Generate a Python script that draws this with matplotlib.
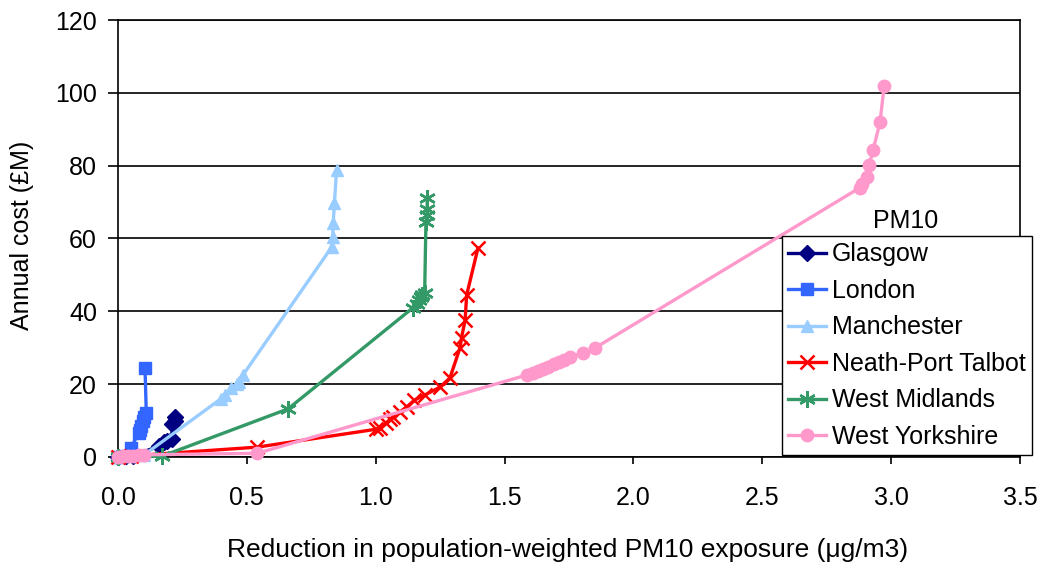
import matplotlib
matplotlib.use("Agg")
import matplotlib.pyplot as plt

plt.rcParams['font.family'] = ['Liberation Sans', 'DejaVu Sans']

glasgow_x = [0.0, 0.03, 0.06, 0.16, 0.18, 0.19, 0.21, 0.21, 0.22, 0.22]
glasgow_y = [0.0, 0.2, 0.4, 3.0, 4.0, 4.5, 5.0, 9.0, 10.0, 11.0]

london_x = [0.0, 0.02, 0.05, 0.08, 0.085, 0.09, 0.097, 0.1, 0.11, 0.105]
london_y = [0.0, 0.3, 2.5, 6.5, 7.4, 8.5, 10.0, 11.0, 12.0, 24.4]

manchester_x = [0.0, 0.1, 0.4, 0.415, 0.44, 0.46, 0.47, 0.485, 0.83, 0.833, 0.835, 0.84, 0.848]
manchester_y = [0.0, 0.5, 16.0, 17.0, 19.0, 20.0, 20.6, 22.5, 57.7, 60.4, 64.2, 69.7, 78.8]

neath_x = [0.0, 0.05, 0.54, 1.0, 1.017, 1.04, 1.055, 1.068, 1.094, 1.12, 1.15, 1.19,
           1.25, 1.288, 1.327, 1.333, 1.347, 1.353, 1.397]
neath_y = [0.0, 0.3, 2.7, 7.6, 8.0, 9.3, 10.3, 11.0, 12.4, 13.7, 15.6, 17.0,
           19.2, 21.7, 29.9, 32.7, 37.6, 44.5, 57.4]

midlands_x = [0.0, 0.17, 0.66, 1.145, 1.16, 1.17, 1.175, 1.18, 1.19, 1.195, 1.2, 1.2, 1.2]
midlands_y = [0.0, 0.2, 13.2, 41.0, 42.0, 43.0, 44.0, 44.5, 45.0, 64.5, 66.4, 68.0, 71.0]

yorkshire_x = [0.0, 0.02, 0.04, 0.06, 0.08, 0.1, 0.54, 1.586, 1.61, 1.63, 1.65, 1.67,
               1.69, 1.71, 1.73, 1.754, 1.805, 1.85, 2.88, 2.886, 2.905, 2.915, 2.93, 2.957, 2.973]
yorkshire_y = [0.0, 0.2, 0.3, 0.4, 0.5, 0.6, 1.0, 22.5, 23.0, 23.6, 24.2, 24.8,
               25.4, 26.0, 26.6, 27.5, 28.5, 29.9, 74.0, 75.0, 76.9, 80.2, 84.3, 92.0, 102.0]

fig = plt.figure(figsize=(10.42, 5.65), dpi=100)
ax = fig.add_axes([0.1132, 0.1912, 0.8657, 0.7734])

series = [
    ("Glasgow", glasgow_x, glasgow_y, '#000080', 'D', 8),
    ("London", london_x, london_y, '#3366FF', 's', 8),
    ("Manchester", manchester_x, manchester_y, '#99CCFF', '^', 9),
    ("Neath-Port Talbot", neath_x, neath_y, '#FF0000', 'x', 10),
    ("West Midlands", midlands_x, midlands_y, '#339966', (6, 2, 0), 12),
    ("West Yorkshire", yorkshire_x, yorkshire_y, '#FF99CC', 'o', 9),
]
for name, xs, ys, col, mk, ms in series:
    ax.plot(xs, ys, color=col, lw=2.4, marker=mk, markersize=ms,
            markeredgewidth=1.8 if mk in ('x', (6, 2, 0)) else 1,
            markeredgecolor=col, markerfacecolor=col, label=name, clip_on=False, zorder=3)

ax.set_xlim(0, 3.5)
ax.set_ylim(0, 120)
ax.set_xticks([0, 0.5, 1.0, 1.5, 2.0, 2.5, 3.0, 3.5])
ax.set_xticklabels(['0.0', '0.5', '1.0', '1.5', '2.0', '2.5', '3.0', '3.5'])
ax.set_yticks(range(0, 121, 20))
ax.tick_params(direction='out', width=1.2, labelsize=18, colors='black')
ax.tick_params(axis='x', length=5, pad=16)
ax.tick_params(axis='y', length=7, pad=8)
ax.yaxis.grid(True, color='black', lw=1.2)
ax.set_axisbelow(True)
for s in ax.spines.values():
    s.set_linewidth(1.2)
    s.set_color('black')

fig.text(0.545, 0.027, "Reduction in population-weighted PM10 exposure (μg/m3)",
         fontsize=19, ha='center', va='center')
fig.text(0.021, 0.584, "Annual cost (£M)", fontsize=18, rotation=90,
         ha='center', va='center')

fig.text(0.869, 0.609, "PM10", fontsize=18, ha='center', va='center')
leg = ax.legend(loc='upper left', bbox_to_anchor=(0.7505, 0.5823),
                bbox_transform=fig.transFigure, fontsize=18, frameon=True,
                fancybox=False, framealpha=1, edgecolor='black',
                labelspacing=0.5, handlelength=1.5, handletextpad=0.25,
                borderpad=0.25, borderaxespad=0)
leg.get_frame().set_linewidth(1.0)

fig.savefig("out.png", dpi=100)
